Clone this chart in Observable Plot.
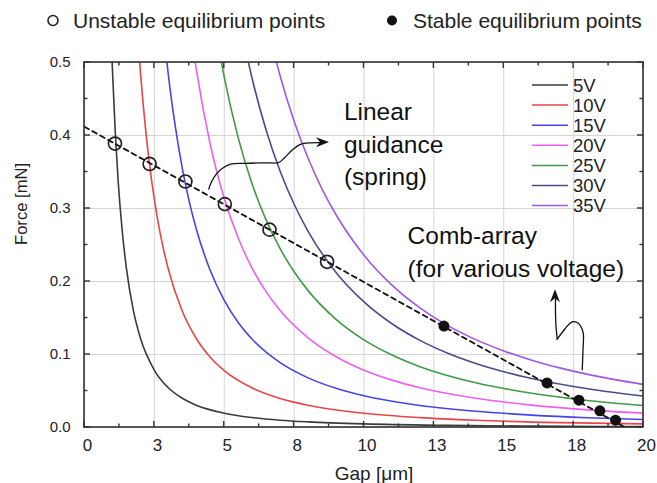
<!DOCTYPE html>
<html><head><meta charset="utf-8">
<script src="https://cdn.jsdelivr.net/npm/d3@7"></script>
<script src="https://cdn.jsdelivr.net/npm/@observablehq/plot@0.6"></script>
<style>body{margin:0;background:#fff;} svg{font-family:"Liberation Sans",Arial,sans-serif;}</style>
</head><body><div id="chart"></div>
<script>
const voltages = ["5V","10V","15V","20V","25V","30V","35V"];
const colors = ["#3b3b3b","#e8454b","#4545e6","#ee5ff0","#3f9a45","#4b4b8c","#a157e6"];

const gap5 = [0.98,1,1.1,1.2,1.35,1.5,1.75,2,2.5,3,3.5,4,5,6,7,8,10,13,16,20];
const force5 = [0.51,0.49,0.405,0.34,0.269,0.218,0.16,0.1225,0.0784,0.0544,0.04,0.0306,0.0196,0.0136,0.01,0.0077,0.0049,0.0029,0.0019,0.0012];
const gap10 = [1.95,2,2.2,2.4,2.6,2.8,3,3.5,4,4.5,5,6,7,8,10,12,14,17,20];
const force10 = [0.513,0.4875,0.403,0.3385,0.2885,0.2487,0.2167,0.1592,0.1219,0.0963,0.078,0.0542,0.0398,0.0305,0.0195,0.0135,0.0099,0.0067,0.0049];
const gap15 = [2.93,3,3.25,3.5,3.75,4,4.5,5,5.5,6,7,8,9,10,12,14,16,18,20];
const force15 = [0.507,0.483,0.412,0.355,0.309,0.272,0.215,0.174,0.1438,0.1208,0.0888,0.068,0.0537,0.0435,0.0302,0.0222,0.017,0.0134,0.0109];
const gap20 = [3.95,4,4.5,5,5.5,6,6.5,7,8,9,10,11,12,14,16,18,20];
const force20 = [0.503,0.4906,0.3877,0.314,0.2595,0.218,0.1858,0.1602,0.1227,0.0969,0.0785,0.0649,0.0545,0.0401,0.0307,0.0242,0.0196];
const gap25 = [4.88,5,5.5,6,6.5,7,7.5,8,9,10,11,12,14,16,18,20];
const force25 = [0.504,0.48,0.3967,0.3333,0.284,0.2449,0.2133,0.1875,0.1481,0.12,0.0992,0.0833,0.0612,0.0469,0.037,0.03];
const gap30 = [5.85,6,6.5,7,7.5,8,9,10,11,12,13,14,15,16,18,20];
const force30 = [0.5026,0.4778,0.4071,0.351,0.3058,0.2688,0.2123,0.172,0.1421,0.1194,0.1018,0.0878,0.0764,0.0672,0.0531,0.043];
const gap35 = [6.85,7,7.5,8,8.5,9,10,11,12,13,14,15,16,17,18,20];
const force35 = [0.503,0.4816,0.4196,0.3688,0.3266,0.2914,0.236,0.195,0.1639,0.1396,0.1204,0.1049,0.0922,0.0817,0.0728,0.059];

const unstableGap = [1.09,2.33,3.61,5.02,6.62,8.68];
const unstableForce = [0.389,0.361,0.337,0.306,0.271,0.227];
const stableGap = [12.86,16.55,17.69,18.44,19.0];
const stableForce = [0.139,0.061,0.0375,0.0229,0.0101];
const springGap = [0,19.35];
const springForce = [0.412,0];

const xTicks = [0,2.5,5,7.5,10,12.5,15,17.5,20];
const xTickLabels = ["0","3","5","8","10","13","15","18","20"];
const xMinor = [1.25,3.75,6.25,8.75,11.25,13.75,16.25,18.75];
const yTicks = [0,0.1,0.2,0.3,0.4,0.5];
const yTickLabels = ["0.0","0.1","0.2","0.3","0.4","0.5"];
const yMinor = [0.05,0.15,0.25,0.35,0.45];

const legendTop = ["Unstable equilibrium points","Stable equilibrium points"];
const annotationText = ["Linear\nguidance\n(spring)","Comb-array\n(for various voltage)"];
const annotationGap = [9.28,11.56];
const annotationForce = [0.453,0.283];

// annotation arrow paths (data coordinates)
const arrowSeg = ["a","a","a","a","a","a","a","a","a","a","a","a","a","b","b","b","b","b","b","b","b","b","c","c","c","c"];
const arrowGap = [4.447,4.544,4.723,4.937,5.224,5.76,6.476,6.952,7.156,7.442,7.728,8.086,8.444,
  17.807,17.835,17.843,17.746,17.628,17.449,17.281,17.138,16.912,
  16.912,16.869,16.851,16.851];
const arrowForce = [0.3266,0.3366,0.3475,0.3551,0.3608,0.3619,0.3626,0.363,0.3695,0.3804,0.3879,0.39,0.3903,
  0.0791,0.1051,0.1297,0.1393,0.1438,0.1448,0.1393,0.1325,0.1211,
  0.1211,0.1393,0.1599,0.1763];
const tipGap = [8.766,16.851];
const tipForce = [0.3905,0.1886];
const tipFromGap = [8.444,16.851];
const tipFromForce = [0.3903,0.1763];

const curveSets = [[gap5,force5],[gap10,force10],[gap15,force15],[gap20,force20],[gap25,force25],[gap30,force30],[gap35,force35]];
const curveData = curveSets.flatMap(([g,f],i) => g.map((x,j) => ({v: voltages[i], gap: x, force: f[j]})));
const unstable = unstableGap.map((g,i) => ({gap: g, force: unstableForce[i]}));
const stable = stableGap.map((g,i) => ({gap: g, force: stableForce[i]}));
const spring = springGap.map((g,i) => ({gap: g, force: springForce[i]}));
const arrows = arrowGap.map((g,i) => ({seg: arrowSeg[i], gap: g, force: arrowForce[i]}));
const annots = annotationText.map((t,i) => ({t, gap: annotationGap[i], force: annotationForce[i]}));

function arrowheads(index, scales) {
  const g = d3.create("svg:g").attr("fill", "#111");
  tipGap.forEach((tg, i) => {
    const tx = scales.x(tg), ty = scales.y(tipForce[i]);
    const fx = scales.x(tipFromGap[i]), fy = scales.y(tipFromForce[i]);
    const a = Math.atan2(ty - fy, tx - fx) * 180 / Math.PI;
    g.append("path").attr("d", "M0,0L-13,-5L-9,0L-13,5Z")
      .attr("transform", `translate(${tx},${ty}) rotate(${a})`);
  });
  return g.node();
}

function frameTicks(index, scales, values, dims) {
  const {width, height, marginTop, marginRight, marginBottom, marginLeft} = dims;
  const x0 = marginLeft, x1 = width - marginRight, y0 = marginTop, y1 = height - marginBottom;
  const g = d3.create("svg:g").attr("stroke", "#333").attr("stroke-width", 1.4).attr("fill", "none");
  const tick = (xa, ya, xb, yb) => g.append("line").attr("x1", xa).attr("y1", ya).attr("x2", xb).attr("y2", yb);
  for (const [arr, len] of [[xTicks, 6], [xMinor, 3.5]]) for (const t of arr) {
    const x = scales.x(t); tick(x, y1, x, y1 - len); tick(x, y0, x, y0 + len);
  }
  for (const [arr, len] of [[yTicks, 6], [yMinor, 3.5]]) for (const t of arr) {
    const y = scales.y(t); tick(x0, y, x0 + len, y); tick(x1, y, x1 - len, y);
  }
  g.append("rect").attr("x", x0).attr("y", y0).attr("width", x1 - x0).attr("height", y1 - y0).attr("stroke-width", 1.6);
  return g.node();
}

function legends(index, scales, values, dims) {
  const g = d3.create("svg:g").attr("font-family", '"Liberation Sans",Arial,sans-serif').attr("text-anchor", "start");
  // top legend
  g.append("circle").attr("cx", 53).attr("cy", 20.5).attr("r", 5).attr("fill", "none").attr("stroke", "#222").attr("stroke-width", 1.6);
  g.append("text").attr("x", 73).attr("y", 28).attr("font-size", 21).attr("fill", "#222").text(legendTop[0]);
  g.append("circle").attr("cx", 392).attr("cy", 20.5).attr("r", 5).attr("fill", "#111");
  g.append("text").attr("x", 413).attr("y", 28).attr("font-size", 21).attr("fill", "#222").text(legendTop[1]);
  // inner legend
  voltages.forEach((v, i) => {
    const y = 85 + i * 20.1;
    g.append("line").attr("x1", 532).attr("x2", 568).attr("y1", y).attr("y2", y).attr("stroke", colors[i]).attr("stroke-width", 1.5);
    g.append("text").attr("x", 573).attr("y", y).attr("dy", "0.36em").attr("font-size", 18.5).attr("fill", "#222").text(v);
  });
  return g.node();
}

const chart = Plot.plot({
  width: 657, height: 483,
  marginLeft: 84, marginRight: 14, marginTop: 62, marginBottom: 56,
  style: {fontFamily: '"Liberation Sans",Arial,sans-serif', background: "#fff", color: "#222"},
  x: {domain: [0, 20]},
  y: {domain: [0, 0.5]},
  color: {domain: voltages, range: colors},
  marks: [
    Plot.gridX(xTicks, {stroke: "#d4d4d4", strokeOpacity: 1, strokeWidth: 1}),
    Plot.gridY(yTicks, {stroke: "#d4d4d4", strokeOpacity: 1, strokeWidth: 1}),
    Plot.axisX(xTicks, {tickSize: 0, tickPadding: 11, dx: 3, fontSize: 17, label: null, tickFormat: d => xTickLabels[xTicks.indexOf(d)]}),
    Plot.axisY(yTicks, {tickSize: 0, tickPadding: 14, fontSize: 15, label: null, tickFormat: d => yTickLabels[yTicks.indexOf(d)]}),
    Plot.line(curveData, {x: "gap", y: "force", z: "v", stroke: "v", strokeWidth: 1.6, curve: "monotone-x", clip: true}),
    Plot.line(spring, {x: "gap", y: "force", stroke: "#111", strokeWidth: 1.8, strokeDasharray: "5,4"}),
    Plot.dot(unstable, {x: "gap", y: "force", r: 6.5, stroke: "#222", strokeWidth: 1.7, fill: "none"}),
    Plot.dot(stable, {x: "gap", y: "force", r: 5.5, fill: "#111", stroke: "none"}),
    Plot.line(arrows, {x: "gap", y: "force", z: "seg", curve: "catmull-rom", stroke: "#111", strokeWidth: 1.3}),
    arrowheads,
    Plot.text(annots, {x: "gap", y: "force", text: "t", textAnchor: "start", lineAnchor: "top", lineHeight: 1.33, fontSize: 24.5, fill: "#111"}),
    frameTicks,
    legends,
    Plot.text(["Force [mN]"], {frameAnchor: "left", rotate: -90, dx: -63, fontSize: 16.6, fill: "#222"}),
    Plot.text(["Gap [\u03bcm]"], {frameAnchor: "bottom", dx: 10, dy: 52, fontSize: 19, fill: "#222"})
  ]
});
document.getElementById("chart").append(chart);
</script></body></html>
